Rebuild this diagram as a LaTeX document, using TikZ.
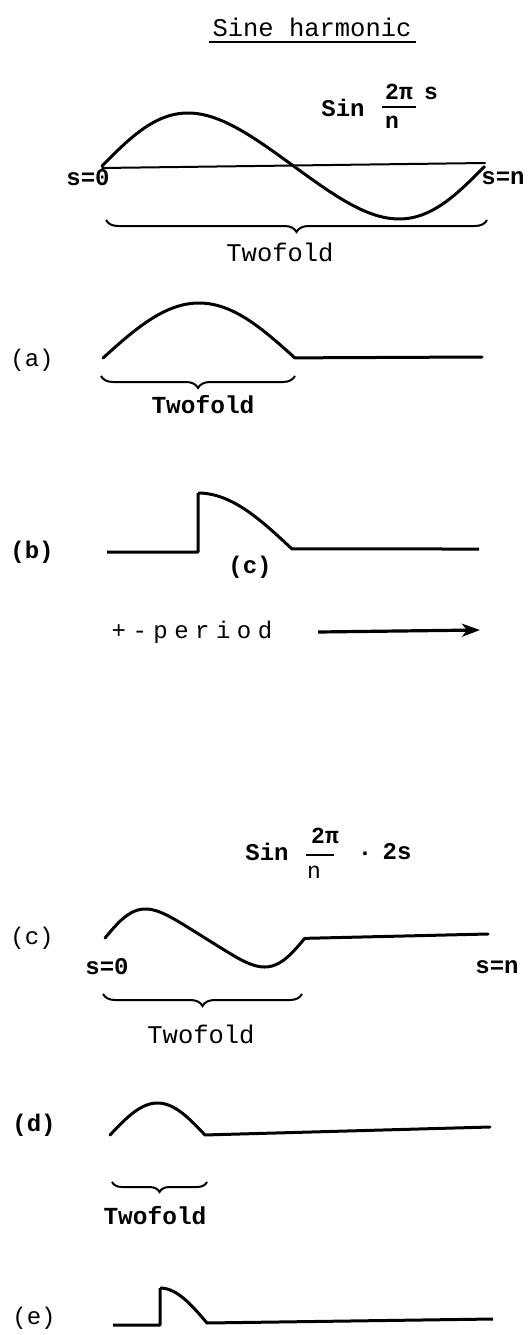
\documentclass[tikz,border=0pt]{standalone}
\usepackage{fontspec}
\setmainfont{Liberation Mono}
\newfontfamily\spacedmono[LetterSpace=27]{Liberation Mono}
\usetikzlibrary{arrows.meta,decorations.pathreplacing}
\begin{document}
\begin{tikzpicture}[x=1pt,y=-1pt,
 wave/.style={line width=3pt, line cap=round, line join=round},
 axisline/.style={line width=2pt, line cap=round},
 brc/.style={line width=2pt, decorate, decoration={brace,mirror,amplitude=12pt}},
 lbl/.style={font=\fontsize{24}{24}\selectfont, inner sep=0pt},
 lblb/.style={font=\bfseries\fontsize{24}{24}\selectfont, inner sep=0pt},
 txt/.style={font=\fontsize{25.5}{26}\selectfont, inner sep=0pt},
 txtb/.style={font=\bfseries\fontsize{24.5}{26}\selectfont, inner sep=0pt},
 big/.style={font=\bfseries\fontsize{24}{24}\selectfont, inner sep=0pt},
 fr/.style={font=\bfseries\fontsize{23}{23}\selectfont, inner sep=0pt},
 frl/.style={font=\fontsize{23}{23}\selectfont, inner sep=0pt},
 bar/.style={line width=2pt},
]
\useasboundingbox (0,0) rectangle (532,1335);

% title
\node[font=\fontsize{25.5}{26}\selectfont, inner sep=0pt] (title) at (312,27) {Sine harmonic};
\draw[line width=1.8pt] (209,42) -- (416,42);

% ---- Sine harmonic (full)
\node[big] (sin1) at (343,108) {Sin};
\node[fr] (num1) at (399,92) {2π};
\node[fr] (s1) at (431,93) {s};
\node[fr] (den1) at (392,122) {n};
\draw[bar] (382,107) -- (416,107);
\coordinate (ax1a) at (102,168);
\coordinate (ax1b) at (485,163);
\draw[axisline] (ax1a) -- (ax1b);
\draw[wave] plot[domain=0:1, samples=100] ({102+383*\x}, {166-53*sin(360*(\x+0.026*sin(360*\x)))});
\node[big] (s0a) at (88,178) {s=0};
\node[big] (sna) at (503,178) {s=n};
\coordinate (br1a) at (106,220);
\coordinate (br1b) at (487,220);
\draw[brc] (br1a) -- (br1b);
\node[txt] (tw1) at (280,252) {Twofold};

% ---- (a)
\node[lbl] (la) at (32,360) {(a)};
\draw[wave] plot[domain=0:1, samples=60] ({103+192*\x}, {358-55*sin(180*\x)}) -- (482,357);
\coordinate (bra) at (101,376);
\coordinate (brb) at (295,376);
\draw[brc] (bra) -- (brb);
\node[txtb] (tw2) at (203,405) {Twofold};

% ---- (b)
\node[lblb] (lb) at (32,552) {(b)};
\draw[wave, line cap=butt] (107,552) -- (198,552) -- (198,493)
  plot[domain=0:1, samples=50] ({198+94*\x}, {549-56*cos(90*\x)}) -- (479,549);
\node[lblb] (lc1) at (250,567) {(c)};
\node[font=\spacedmono\fontsize{24}{24}\selectfont, inner sep=0pt] (period) at (192,632) {+-period};
\coordinate (arra) at (318,632);
\coordinate (arrb) at (480,630);
\draw[line width=3.2pt, -{Stealth[length=18pt,width=13pt,inset=5pt]}] (arra) -- (arrb);

% ---- Sin 2pi/n . 2s
\node[big] (sin2) at (267,852) {Sin};
\node[fr] (num2) at (325,836) {2π};
\draw[bar] (306,855) -- (334,855);
\node[frl] (den2) at (314,872) {n};
\node[big] (dot2) at (365,856) {·};
\node[big] (twos) at (397,852) {2s};

% ---- (c)
\node[lbl] (lc) at (32,938) {(c)};
\draw[wave] plot[domain=0:1, samples=100] ({105+200*\x}, {938-29*sin(360*(\x+0.05*sin(360*\x)))}) -- (488,934);
\node[big] (s0b) at (107,967) {s=0};
\node[big] (snb) at (497,967) {s=n};
\coordinate (brc1) at (103,994);
\coordinate (brc2) at (302,994);
\draw[brc] (brc1) -- (brc2);
\node[txt] (tw3) at (201,1034) {Twofold};

% ---- (d)
\node[lblb] (ld) at (34,1125) {(d)};
\draw[wave] plot[domain=0:1, samples=50] ({110+95*\x}, {1135-32*sin(180*\x)}) -- (490,1127);
\coordinate (brd1) at (112,1182);
\coordinate (brd2) at (207,1182);
\draw[brc, decoration={brace,mirror,amplitude=10pt}] (brd1) -- (brd2);
\node[txtb] (tw4) at (155,1216) {Twofold};

% ---- (e)
\node[lbl] (le) at (34,1318) {(e)};
\draw[wave, line cap=butt] (113,1325) -- (160,1325) -- (160,1288)
  plot[domain=0:1, samples=40] ({160+47*\x}, {1323-35*cos(90*\x)}) -- (493,1319);
\end{tikzpicture}
\end{document}
